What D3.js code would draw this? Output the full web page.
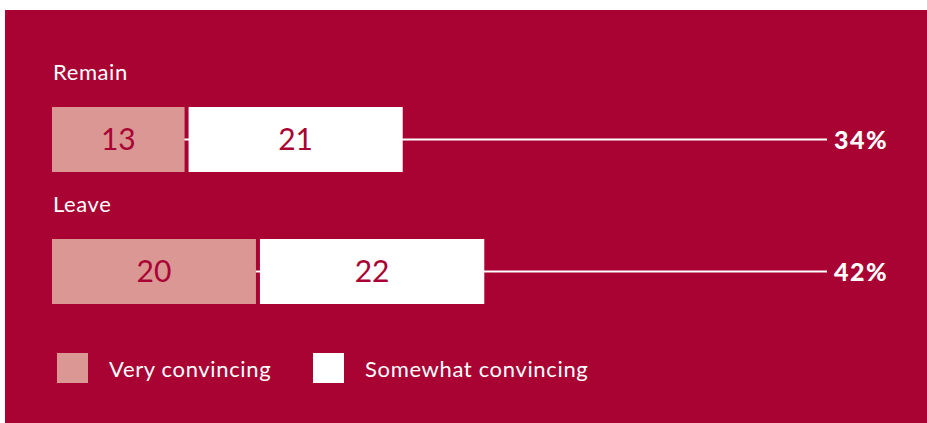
<!DOCTYPE html>
<html>
<head>
<meta charset="utf-8">
<script src="https://cdn.jsdelivr.net/npm/d3@7"></script>
<style>
  html, body { margin: 0; padding: 0; background: #ffffff; }
  svg { display: block; }
  text { font-family: Lato, "Open Sans", sans-serif; }
</style>
</head>
<body>
<svg id="chart" width="927" height="423"></svg>
<script>
// ---- data ----
const categories = ["Remain", "Leave"];
const veryConvincing = [13, 20];
const somewhatConvincing = [21, 22];
const totalLabels = ["34%", "42%"];
const seriesNames = ["Very convincing", "Somewhat convincing"];

// ---- style ----
const BG = "#A90334";
const PINK = "#DA9794";
const WHITE = "#FFFFFF";
const colors = [PINK, WHITE];

const svg = d3.select("#chart");
const W = 927, H = 423;

svg.append("rect")
  .attr("x", 5).attr("y", 10)
  .attr("width", W - 5).attr("height", H - 10)
  .attr("fill", BG);

const x = d3.scaleLinear().domain([0, 76]).range([52, 827]);
const y = d3.scaleBand().domain(categories).range([107, 304])
  .paddingInner(67 / 132).paddingOuter(0);
const GAP = 4;

const rows = categories.map((c, i) => ({
  cat: c,
  very: veryConvincing[i],
  some: somewhatConvincing[i],
  total: totalLabels[i]
}));

const g = svg.append("g");

// leader lines (behind the bars)
g.selectAll("line.leader").data(rows).join("line")
  .attr("class", "leader")
  .attr("x1", x(0))
  .attr("x2", x.range()[1])
  .attr("y1", d => y(d.cat) + y.bandwidth() / 2)
  .attr("y2", d => y(d.cat) + y.bandwidth() / 2)
  .attr("stroke", WHITE)
  .attr("stroke-width", 2);

// very convincing segments
g.selectAll("rect.very").data(rows).join("rect")
  .attr("class", "very")
  .attr("x", x(0))
  .attr("y", d => y(d.cat))
  .attr("width", d => x(d.very) - x(0))
  .attr("height", y.bandwidth())
  .attr("fill", PINK);

// somewhat convincing segments
g.selectAll("rect.some").data(rows).join("rect")
  .attr("class", "some")
  .attr("x", d => x(d.very) + GAP)
  .attr("y", d => y(d.cat))
  .attr("width", d => x(d.some) - x(0))
  .attr("height", y.bandwidth())
  .attr("fill", WHITE);

// value labels
g.selectAll("text.vv").data(rows).join("text")
  .attr("class", "vv")
  .attr("x", d => (x(0) + x(d.very)) / 2)
  .attr("y", d => y(d.cat) + y.bandwidth() / 2)
  .attr("dy", "0.36em")
  .attr("text-anchor", "middle")
  .attr("font-size", 30)
  .attr("fill", BG)
  .text(d => d.very);

g.selectAll("text.sv").data(rows).join("text")
  .attr("class", "sv")
  .attr("x", d => x(d.very) + GAP + (x(d.some) - x(0)) / 2)
  .attr("y", d => y(d.cat) + y.bandwidth() / 2)
  .attr("dy", "0.36em")
  .attr("text-anchor", "middle")
  .attr("font-size", 30)
  .attr("fill", BG)
  .text(d => d.some);

// totals
g.selectAll("text.tot").data(rows).join("text")
  .attr("class", "tot")
  .attr("x", x.range()[1] + 7)
  .attr("y", d => y(d.cat) + y.bandwidth() / 2)
  .attr("dy", "0.36em")
  .attr("font-size", 25)
  .attr("font-weight", 900)
  .attr("letter-spacing", 1.5)
  .attr("fill", WHITE)
  .text(d => d.total);

// category labels
g.selectAll("text.cat").data(rows).join("text")
  .attr("class", "cat")
  .attr("x", x(0) + 1)
  .attr("y", d => y(d.cat) - 27)
  .attr("font-size", 22)
  .attr("letter-spacing", 0.6)
  .attr("fill", WHITE)
  .text(d => d.cat);

// legend
const legendX = [57, 313];
const leg = svg.append("g");
seriesNames.forEach((name, i) => {
  leg.append("rect")
    .attr("x", legendX[i]).attr("y", 353)
    .attr("width", 31).attr("height", 30)
    .attr("fill", colors[i]);
  leg.append("text")
    .attr("x", legendX[i] + 52)
    .attr("y", 377)
    .attr("font-size", 22)
    .attr("letter-spacing", 0.65)
    .attr("fill", WHITE)
    .text(name);
});
</script>
</body>
</html>
